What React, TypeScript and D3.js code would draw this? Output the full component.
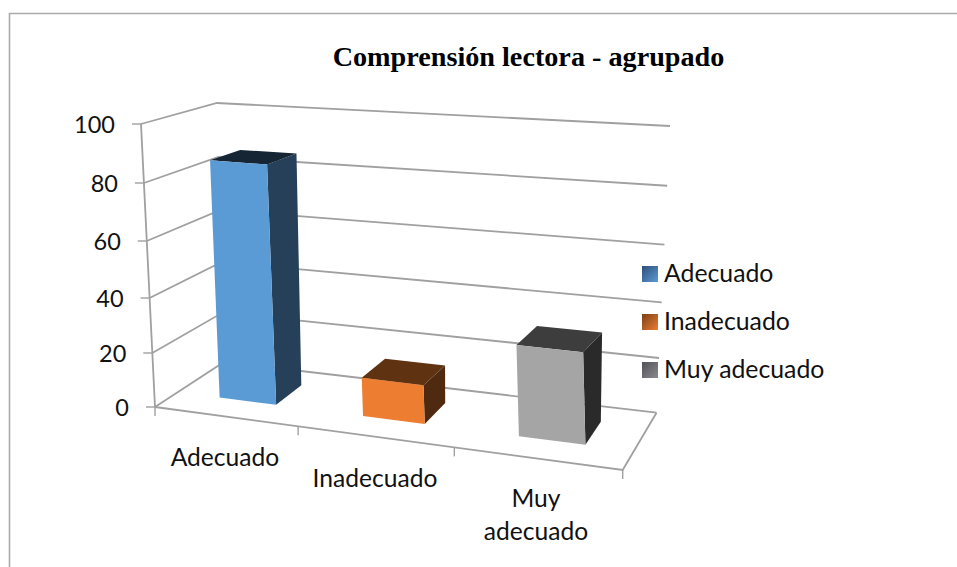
import React from "react";
import * as d3 from "d3";

const title = "Comprensión lectora - agrupado";
const categories = ["Adecuado", "Inadecuado", "Muy adecuado"];
const values = [86, 14, 32];
const valueTicks = [0, 20, 40, 60, 80, 100];
const seriesColors = ["#5b9bd5", "#ed7d31", "#a5a5a5"];
const sideColors = ["#264059", "#4f2a10", "#2a2a2a"];
const topColors = ["#152533", "#5f3212", "#3d3d3d"];
const legendDark = ["#2d4f78", "#7a4016", "#505058"];
const legendLight = ["#5b9bd5", "#ed7d31", "#8a8a8e"];

const W = 957;
const H = 567;
const FONT = "Lato, 'Open Sans', sans-serif";
const GRID = "#a0a0a0";

type P = [number, number];
// wall / floor corners of the perspective box: [front|back][0|100][left|right]
const F0L: P = [155, 407];
const F100L: P = [141, 124];
const B0L: P = [224, 362];
const B100L: P = [217, 103];
const F0R: P = [622.7, 470];
const F100R: P = [606, 157];
const B0R: P = [656.5, 412.7];
const B100R: P = [670, 126];

const uScale = d3.scaleLinear().domain([0, 1, 2, 3]).range([0, 0.306, 0.64, 1]);
const wScale = d3.scaleLinear().domain(valueTicks).range([0, 54 / 283, 109 / 283, 166 / 283, 224 / 283, 1]);

const mix = (a: P, b: P, t: number): P => [a[0] + (b[0] - a[0]) * t, a[1] + (b[1] - a[1]) * t];

// cat: position along category axis; val: value; depth: 0 front .. 1 back
function project(cat: number, val: number, depth: number): P {
  const u = uScale(cat);
  const w = wScale(val);
  const f0 = mix(F0L, F0R, u);
  const f1 = mix(F100L, F100R, u);
  const b0 = mix(B0L, B0R, u);
  const b1 = mix(B100L, B100R, u);
  return mix(mix(f0, f1, w), mix(b0, b1, w), depth);
}

const path = (pts: P[]) => d3.line()(pts as [number, number][]) ?? "";
const poly = (pts: P[]) => path(pts) + "Z";

const BAR_L = 0.3;
const BAR_R = 0.705;
const D_F = 0.33;
const D_B = 0.74;

const labelLines = [["Adecuado"], ["Inadecuado"], ["Muy", "adecuado"]];
const labelCenters = [225, 375, 536];
const labelBaselines = [466, 487, 507];
const legendY = [266, 314, 362];

export default function App() {
  const top = valueTicks[valueTicks.length - 1];
  return (
    <svg
      width={W}
      height={H}
      viewBox={`0 0 ${W} ${H}`}
      style={{ position: "absolute", left: 0, top: 0, display: "block", background: "#fff" }}
    >
      <defs>
        {categories.map((c, i) => (
          <linearGradient key={c} id={`lg${i}`} x1="0" y1="0" x2="1" y2="1">
            <stop offset="0" stopColor={legendDark[i]} />
            <stop offset="1" stopColor={legendLight[i]} />
          </linearGradient>
        ))}
      </defs>

      {/* frame */}
      <path d={`M9.5 567V13.5H957`} fill="none" stroke="#aaa" strokeWidth={1.6} />

      <text x={528.5} y={66} textAnchor="middle" fontFamily="'Liberation Serif', serif" fontWeight="bold" fontSize={28.2} fill="#000">
        {title}
      </text>

      {/* walls and floor */}
      <g fill="none" stroke={GRID} strokeWidth={1.8}>
        {valueTicks.map((t) => (
          <path key={t} d={path([project(0, t, 0), project(0, t, 1), project(3, t, 1)])} />
        ))}
        <path d={path([project(0, 0, 0), project(0, top, 0)])} />
        <path d={path([project(0, 0, 0), project(3, 0, 0), project(3, 0, 1)])} />
        {valueTicks.map((t) => {
          const p = project(0, t, 0);
          return <line key={t} x1={p[0]} y1={p[1]} x2={p[0] - 9} y2={p[1]} strokeWidth={1.4} />;
        })}
        {[0, 1, 2, 3].map((c) => {
          const p = project(c, 0, 0);
          return <line key={c} x1={p[0]} y1={p[1]} x2={p[0]} y2={p[1] + 9} strokeWidth={1.4} />;
        })}
      </g>

      {/* bars */}
      {values.map((v, i) => {
        const l = i + BAR_L;
        const r = i + BAR_R;
        const ftl = project(l, v, D_F);
        const ftr = project(r, v, D_F);
        const fbl = project(l, 0, D_F);
        const fbr = project(r, 0, D_F);
        const btl = project(l, v, D_B);
        const btr = project(r, v, D_B);
        const bbr = project(r, 0, D_B);
        return (
          <g key={categories[i]}>
            <path d={poly([ftr, btr, bbr, fbr])} fill={sideColors[i]} />
            <path d={poly([ftl, btl, btr, ftr])} fill={topColors[i]} />
            <path d={poly([ftl, ftr, fbr, fbl])} fill={seriesColors[i]} />
          </g>
        );
      })}

      {/* value labels */}
      {valueTicks.map((t) => {
        const p = project(0, t, 0);
        return (
          <text key={t} x={p[0] - 26} y={p[1] + 9} textAnchor="end" fontFamily={FONT} fontSize={23.5} fill="#111">
            {t}
          </text>
        );
      })}

      {/* category labels */}
      {labelLines.map((lines, i) => (
        <text key={i} textAnchor="middle" fontFamily={FONT} fontSize={24.6} fill="#111">
          {lines.map((s, j) => (
            <tspan key={s} x={labelCenters[i]} y={labelBaselines[i] + j * 33}>
              {s}
            </tspan>
          ))}
        </text>
      ))}

      {/* legend */}
      {categories.map((c, i) => (
        <g key={c}>
          <rect x={642} y={legendY[i]} width={16} height={16} fill={`url(#lg${i})`} />
          <text x={664} y={legendY[i] + 16} fontFamily={FONT} fontSize={24.8} fill="#111">
            {c}
          </text>
        </g>
      ))}
    </svg>
  );
}
